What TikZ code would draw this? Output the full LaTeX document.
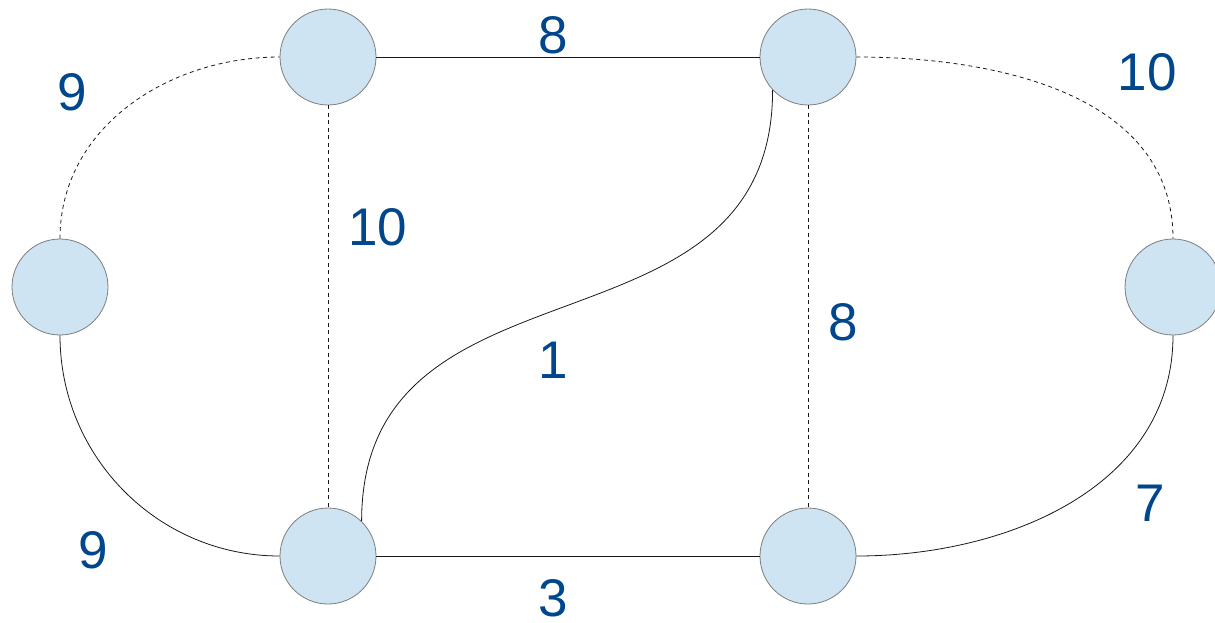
\documentclass[tikz,border=0pt]{standalone}
\usepackage{fontspec}
\setmainfont{Liberation Sans}
\usepackage{tikz}
\usetikzlibrary{positioning, calc}
\definecolor{nodefill}{RGB}{207,228,242}
\definecolor{nodeline}{RGB}{125,125,125}
\definecolor{wblue}{RGB}{0,70,140}
\tikzset{
  vertex/.style={circle, draw=nodeline, fill=nodefill, minimum size=96pt,
    inner sep=0pt, line width=0.8pt},
  wlabel/.style={text=wblue, font=\fontsize{53}{60}\selectfont, inner sep=0pt},
  edge/.style={line width=0.8pt, color=black!90},
  dedge/.style={line width=0.8pt, color=black!90, dash pattern=on 4pt off 3.5pt}
}
\begin{document}
\begin{tikzpicture}[x=1pt, y=-1pt]
  \useasboundingbox (0,0) rectangle (1215,622);

  % Vertices
  \node[vertex] (tl) at (328,57) {};
  \node[vertex] (tr) at (808,57) {};
  \node[vertex] (ml) at (60,287) {};
  \node[vertex] (mr) at (1173,287) {};
  \node[vertex] (bl) at (328,556) {};
  \node[vertex] (br) at (808,556) {};

  % Edges
  \draw[edge] (tl) -- (tr);
  \draw[edge] (bl) -- (br);
  \draw[dedge] (ml.north) to[out=90, in=180] (tl.west);
  \draw[dedge] (tr.east) to[out=0, in=90] (mr.north);
  \draw[dedge] (tl.south) -- (bl.north);
  \draw[dedge] (tr.south) -- (br.north);
  \draw[edge] (tr.223) to[out=-90, in=90, looseness=1.2] (bl.46);
  \draw[edge] (ml.south) to[out=-90, in=180] (bl.west);
  \draw[edge] (br.east) to[out=0, in=-90] (mr.south);

  % Weights
  \node[wlabel] (w-top) at (553,35) {8};
  \node[wlabel] (w-lt) at (72,92) {9};
  \node[wlabel] (w-rt) at (1147,72) {10};
  \node[wlabel] (w-lv) at (378,227) {10};
  \node[wlabel] (w-rv) at (843,322) {8};
  \node[wlabel] (w-mid) at (553,360) {1};
  \node[wlabel] (w-lb) at (93,550) {9};
  \node[wlabel] (w-bot) at (553,598) {3};
  \node[wlabel] (w-rb) at (1150,503) {7};
\end{tikzpicture}
\end{document}
